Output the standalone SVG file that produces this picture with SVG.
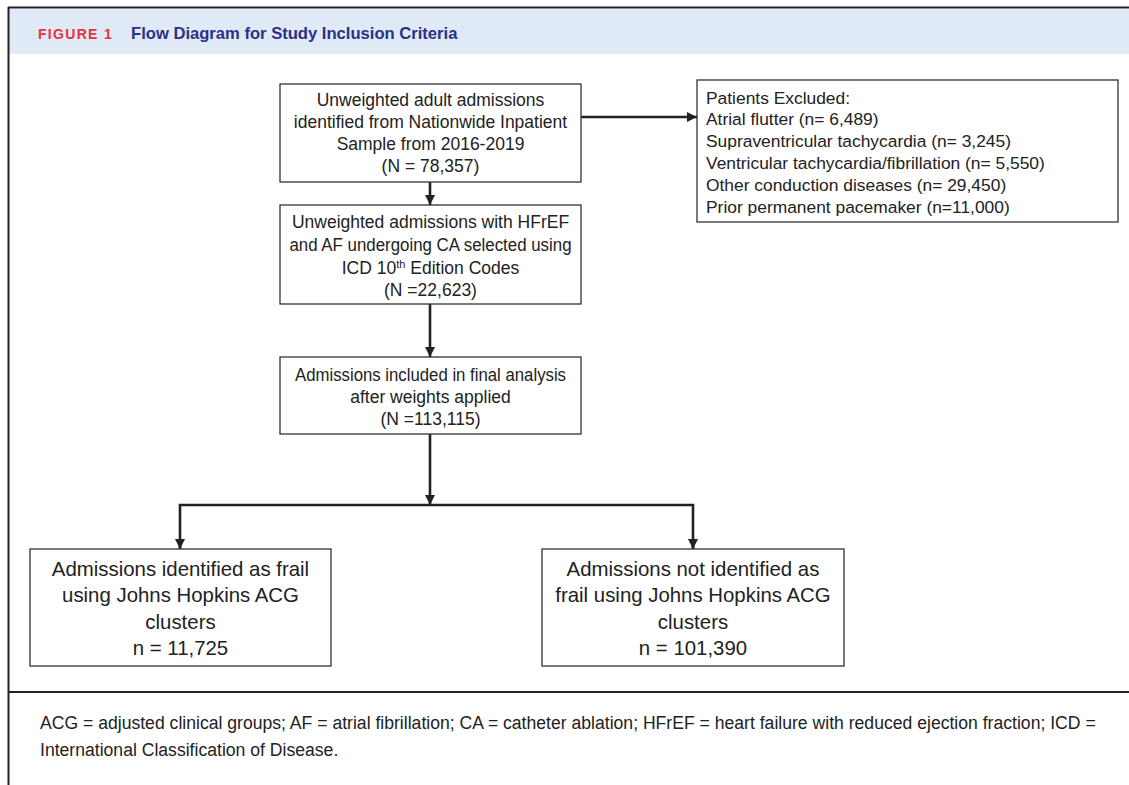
<svg xmlns="http://www.w3.org/2000/svg" width="1129" height="785" viewBox="0 0 1129 785">
<style>
.box{fill:#fff;stroke:#333;stroke-width:1.3}
.t{font-family:"Liberation Sans",Arial,sans-serif;font-size:17.5px;fill:#222;text-anchor:middle}
.tl{font-family:"Liberation Sans",Arial,sans-serif;font-size:17.4px;fill:#222}
.tb{font-family:"Liberation Sans",Arial,sans-serif;font-size:20.4px;fill:#222;text-anchor:middle}
.c{fill:none;stroke:#222;stroke-width:2.6}
.fn{font-family:"Liberation Sans",Arial,sans-serif;font-size:17.6px;fill:#222}
</style>
<defs>
<marker id="ah" viewBox="0 0 10 10" refX="10" refY="5" markerWidth="4" markerHeight="4" orient="auto" markerUnits="strokeWidth">
<path d="M0,0 L10,5 L0,10 z" fill="#222"/>
</marker>
</defs>
<rect x="0" y="0" width="1129" height="785" fill="#fff"/>
<g id="frame">
<rect x="9" y="9" width="1120" height="45" fill="#dfeaf6"/>
<line x1="8" y1="7.5" x2="1129" y2="7.5" stroke="#222" stroke-width="2"/>
<line x1="8.5" y1="7" x2="8.5" y2="785" stroke="#222" stroke-width="2"/>
<line x1="8" y1="692" x2="1129" y2="692" stroke="#222" stroke-width="2"/>
<text x="38" y="39" font-family="'Liberation Sans',Arial,sans-serif" font-size="14" font-weight="bold" fill="#e8323c" letter-spacing="1.3">FIGURE 1</text>
<text x="131" y="39" font-family="'Liberation Sans',Arial,sans-serif" font-size="16.6" font-weight="bold" fill="#2b3088">Flow Diagram for Study Inclusion Criteria</text>
</g>
<g id="connectors">
<line class="c" x1="581" y1="117" x2="697" y2="117" marker-end="url(#ah)"/>
<line class="c" x1="430" y1="182" x2="430" y2="205" marker-end="url(#ah)"/>
<line class="c" x1="430" y1="304" x2="430" y2="357" marker-end="url(#ah)"/>
<line class="c" x1="430" y1="434" x2="430" y2="505" marker-end="url(#ah)"/>
<polyline class="c" points="180,549 180,505 693,505 693,549"/>
<line class="c" x1="180" y1="540" x2="180" y2="549" marker-end="url(#ah)"/>
<line class="c" x1="693" y1="540" x2="693" y2="549" marker-end="url(#ah)"/>
</g>
<g id="n1">
<rect class="box" x="280" y="84" width="301" height="98"/>
<text class="t" x="430.5" y="106">Unweighted adult admissions</text>
<text class="t" x="430.5" y="128">identified from Nationwide Inpatient</text>
<text class="t" x="430.5" y="150">Sample from 2016-2019</text>
<text class="t" x="430.5" y="172">(N = 78,357)</text>
</g>
<g id="excluded">
<rect class="box" x="697" y="80" width="421" height="142"/>
<text class="tl" x="706" y="104">Patients Excluded:</text>
<text class="tl" x="706" y="125">Atrial flutter (n= 6,489)</text>
<text class="tl" x="706" y="147">Supraventricular tachycardia (n= 3,245)</text>
<text class="tl" x="706" y="169">Ventricular tachycardia/fibrillation (n= 5,550)</text>
<text class="tl" x="706" y="191">Other conduction diseases (n= 29,450)</text>
<text class="tl" x="706" y="213">Prior permanent pacemaker (n=11,000)</text>
</g>
<g id="n2">
<rect class="box" x="280" y="205" width="301" height="99"/>
<text class="t" x="430.5" y="228">Unweighted admissions with HFrEF</text>
<text class="t" x="430.5" y="251" textLength="282" lengthAdjust="spacingAndGlyphs">and AF undergoing CA selected using</text>
<text class="t" x="430.5" y="274">ICD 10<tspan font-size="11" dy="-6">th</tspan><tspan dy="6"> Edition Codes</tspan></text>
<text class="t" x="430.5" y="296">(N =22,623)</text>
</g>
<g id="n3">
<rect class="box" x="280" y="357" width="301" height="77"/>
<text class="t" x="430.5" y="381" textLength="271" lengthAdjust="spacingAndGlyphs">Admissions included in final analysis</text>
<text class="t" x="430.5" y="403">after weights applied</text>
<text class="t" x="430.5" y="425">(N =113,115)</text>
</g>
<g id="frail">
<rect class="box" x="30" y="549" width="301" height="117"/>
<text class="tb" x="180.5" y="576">Admissions identified as frail</text>
<text class="tb" x="180.5" y="602">using Johns Hopkins ACG</text>
<text class="tb" x="180.5" y="629">clusters</text>
<text class="tb" x="180.5" y="655">n = 11,725</text>
</g>
<g id="notfrail">
<rect class="box" x="542" y="549" width="302" height="117"/>
<text class="tb" x="693" y="576">Admissions not identified as</text>
<text class="tb" x="693" y="602">frail using Johns Hopkins ACG</text>
<text class="tb" x="693" y="629">clusters</text>
<text class="tb" x="693" y="655">n = 101,390</text>
</g>
<g id="footnote">
<text class="fn" x="40" y="729">ACG = adjusted clinical groups; AF = atrial fibrillation; CA = catheter ablation; HFrEF = heart failure with reduced ejection fraction; ICD =</text>
<text class="fn" x="40" y="756">International Classification of Disease.</text>
</g>
</svg>
